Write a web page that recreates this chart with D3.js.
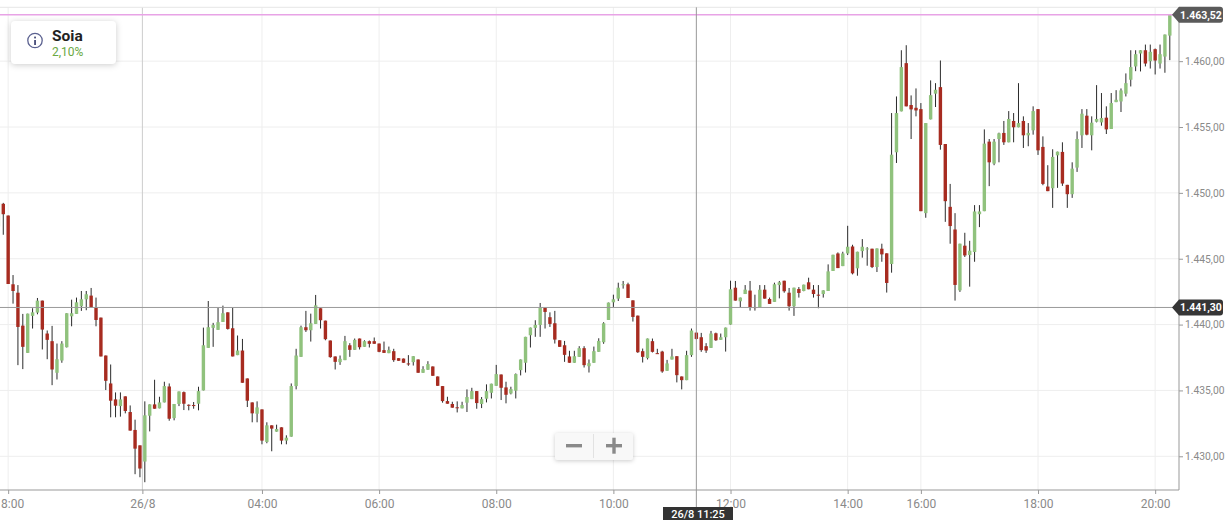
<!DOCTYPE html>
<html>
<head>
<meta charset="utf-8">
<script src="https://cdn.jsdelivr.net/npm/d3@7"></script>
<style>
  html, body { margin: 0; padding: 0; background: #fff; overflow: hidden; }
  svg { display: block; font-family: Roboto, sans-serif; }
</style>
</head>
<body>
<svg id="chart" width="1229" height="520"></svg>
<script>
// 5 minute candles
var opens = [
  1447.45,1449.17,1448.28,1443.06,1442.42,1439.92,1437.85,1440.66,1440.91,1441.82,
  1439.32,1438.74,1436.34,1437.27,1438.28,1440.63,1440.81,1441.39,1441.92,1442.20,
  1441.29,1440.53,1437.65,1435.53,1434.32,1433.81,1434.55,1433.36,1432.00,1430.83,
  1429.60,1433.08,1433.94,1433.64,1434.09,1435.30,1432.90,1433.97,1434.87,1433.91,
  1433.89,1433.99,1435.00,1438.23,1439.75,1439.60,1440.20,1440.93,1439.72,1437.68,
  1438.03,1435.91,1434.09,1433.23,1433.56,1431.09,1432.35,1431.87,1432.20,1431.19,
  1431.49,1435.33,1437.55,1439.80,1439.57,1440.05,1441.24,1440.30,1438.79,1437.58,
  1437.15,1437.30,1438.43,1438.08,1438.94,1438.31,1438.74,1438.74,1438.56,1438.06,
  1437.83,1437.98,1437.45,1437.42,1437.05,1437.15,1437.35,1436.34,1436.57,1436.82,
  1436.06,1435.33,1434.19,1433.97,1433.72,1433.64,1434.07,1434.34,1434.95,1433.97,
  1434.37,1434.82,1435.35,1436.21,1435.23,1434.77,1434.98,1436.54,1437.10,1439.19,
  1439.75,1439.97,1441.26,1440.56,1440.10,1438.81,1438.43,1437.58,1437.10,1437.55,
  1438.21,1436.84,1437.10,1437.93,1438.66,1440.35,1441.69,1441.97,1443.03,1443.06,
  1441.84,1440.68,1437.98,1437.45,1438.74,1437.83,1437.95,1436.49,1437.35,1437.60,
  1436.06,1435.78,1437.68,1439.39,1439.04,1438.36,1438.23,1439.34,1438.84,1439.04,
  1440.00,1442.80,1441.77,1442.32,1442.58,1441.33,1441.31,1442.65,1441.94,1441.72,
  1443.00,1443.33,1442.42,1441.39,1442.70,1442.55,1443.21,1442.65,1442.27,1442.32,
  1442.55,1444.07,1445.40,1444.44,1445.40,1445.93,1444.27,1445.58,1445.76,1445.76,
  1444.37,1445.76,1445.41,1444.60,1453.08,1456.19,1459.85,1456.67,1456.46,1456.36,
  1448.46,1455.58,1457.53,1458.03,1453.71,1448.94,1447.22,1442.60,1445.99,1445.28,
  1445.51,1448.38,1448.61,1453.89,1452.22,1454.09,1454.55,1453.84,1455.46,1454.98,
  1455.46,1454.37,1454.75,1456.36,1453.49,1450.48,1450.35,1452.85,1453.11,1450.61,
  1449.90,1451.92,1454.37,1455.86,1454.37,1455.40,1455.35,1455.71,1454.85,1456.89,
  1456.94,1457.53,1458.59,1459.60,1460.58,1460.83,1460.00,1460.91,1459.82,1460.35,
  1461.94
];
var highs = [
  1449.24,1449.24,1448.28,1443.76,1443.00,1440.81,1440.83,1441.24,1442.02,1441.82,
  1439.55,1439.90,1438.56,1438.74,1440.86,1441.89,1442.05,1442.55,1442.55,1442.78,
  1442.05,1440.53,1437.65,1436.97,1434.85,1434.85,1434.55,1433.86,1432.78,1430.83,
  1434.17,1433.94,1435.81,1434.52,1435.66,1435.53,1433.97,1434.92,1434.92,1433.94,
  1434.12,1435.28,1439.77,1441.79,1440.13,1441.26,1441.44,1440.93,1441.26,1439.17,
  1438.91,1435.91,1434.09,1434.17,1433.56,1432.58,1432.35,1432.40,1432.20,1431.59,
  1435.53,1438.16,1439.92,1441.04,1440.83,1442.25,1441.24,1440.30,1438.79,1437.58,
  1437.65,1439.14,1438.59,1438.94,1438.94,1438.81,1438.79,1439.02,1438.56,1438.71,
  1438.33,1438.16,1437.45,1437.42,1437.68,1437.60,1437.35,1436.84,1437.22,1436.82,
  1436.06,1435.33,1434.52,1434.14,1434.17,1434.14,1435.08,1435.20,1434.95,1434.50,
  1435.46,1435.51,1436.94,1436.21,1435.66,1435.28,1436.29,1437.35,1439.07,1439.77,
  1440.33,1441.64,1441.26,1440.93,1441.04,1438.81,1438.76,1438.01,1438.01,1438.36,
  1438.36,1437.35,1438.33,1438.96,1440.18,1441.67,1442.27,1443.18,1443.31,1443.18,
  1441.84,1440.68,1438.18,1438.94,1438.94,1438.16,1438.01,1437.32,1438.16,1437.60,
  1436.06,1438.01,1439.70,1439.39,1439.37,1438.59,1439.52,1439.39,1439.32,1439.77,
  1443.33,1443.31,1442.05,1443.00,1443.31,1442.27,1443.00,1443.00,1442.05,1443.18,
  1443.31,1443.33,1442.78,1442.80,1442.85,1443.03,1443.56,1443.00,1443.00,1442.60,
  1444.57,1445.30,1445.48,1445.53,1447.50,1446.06,1445.53,1446.49,1445.88,1445.76,
  1445.78,1446.14,1445.41,1456.06,1457.32,1460.83,1461.21,1457.40,1457.93,1456.82,
  1455.30,1458.54,1458.33,1460.05,1453.71,1450.68,1448.46,1446.14,1446.97,1446.36,
  1449.07,1449.07,1454.82,1454.09,1454.09,1454.57,1455.46,1456.21,1456.06,1458.33,
  1455.81,1455.30,1456.57,1456.36,1454.29,1452.10,1453.31,1453.13,1453.84,1450.61,
  1452.32,1454.67,1456.36,1456.36,1455.81,1458.18,1457.58,1456.57,1457.58,1457.80,
  1457.93,1459.07,1460.83,1460.83,1460.83,1461.26,1461.26,1460.96,1461.26,1462.02,
  1463.52
];
var lows = [
  1447.45,1446.82,1443.08,1441.59,1436.92,1436.62,1437.85,1439.70,1440.78,1438.11,
  1437.37,1435.40,1435.83,1437.10,1438.26,1439.87,1440.81,1441.04,1441.09,1441.31,
  1439.87,1437.58,1435.03,1432.96,1432.96,1433.01,1433.26,1431.95,1428.64,1428.41,
  1428.03,1431.89,1433.61,1433.64,1434.09,1432.70,1432.73,1433.81,1433.51,1433.49,
  1433.61,1433.49,1435.00,1438.23,1438.31,1439.60,1440.20,1439.62,1437.58,1437.68,
  1435.58,1433.74,1432.58,1432.58,1430.91,1430.99,1430.38,1431.87,1430.91,1430.91,
  1431.49,1435.08,1437.55,1439.44,1438.71,1440.05,1439.70,1438.81,1437.48,1436.59,
  1436.94,1437.30,1437.55,1438.08,1438.11,1438.31,1438.26,1438.54,1437.90,1437.85,
  1437.83,1437.17,1437.25,1437.10,1436.87,1436.89,1436.34,1436.34,1436.57,1436.11,
  1435.35,1434.07,1433.99,1433.69,1433.33,1433.64,1433.36,1434.34,1433.61,1433.66,
  1434.09,1434.39,1435.35,1434.27,1434.02,1434.70,1434.39,1436.14,1436.36,1438.26,
  1439.07,1439.07,1439.70,1439.82,1438.56,1438.31,1437.17,1437.10,1437.10,1437.55,
  1436.74,1436.36,1437.10,1437.93,1438.54,1440.35,1441.34,1441.79,1442.73,1442.02,
  1440.23,1437.85,1437.12,1437.35,1437.88,1437.78,1436.34,1436.49,1437.35,1435.61,
  1435.08,1435.78,1437.55,1438.86,1437.93,1437.85,1438.23,1438.76,1438.84,1437.95,
  1440.00,1441.82,1441.31,1442.32,1441.06,1441.06,1441.31,1441.97,1441.57,1441.72,
  1441.99,1442.42,1441.06,1440.66,1442.05,1442.53,1442.68,1442.05,1441.24,1442.05,
  1442.55,1444.07,1444.29,1444.44,1445.28,1443.81,1443.71,1445.08,1444.47,1444.29,
  1443.99,1444.77,1442.43,1443.94,1452.27,1456.19,1456.57,1454.09,1455.81,1448.61,
  1448.11,1455.58,1456.52,1453.28,1447.80,1446.14,1441.82,1442.48,1445.13,1442.88,
  1444.77,1447.40,1448.61,1450.51,1452.10,1452.32,1453.64,1453.84,1453.84,1454.98,
  1453.41,1453.54,1454.42,1452.88,1450.58,1450.13,1448.86,1450.38,1450.53,1448.86,
  1449.62,1451.59,1453.41,1454.37,1453.23,1455.35,1455.10,1454.47,1454.85,1456.89,
  1456.14,1457.32,1458.08,1459.24,1459.22,1459.60,1459.44,1458.99,1459.44,1459.12,
  1460.08
];
var closes = [
  1449.24,1448.38,1443.08,1442.55,1439.82,1438.31,1440.83,1440.93,1441.82,1439.62,
  1438.84,1436.59,1437.37,1438.56,1440.86,1440.86,1441.69,1441.92,1442.30,1441.31,
  1440.35,1437.58,1435.73,1434.22,1433.84,1434.32,1433.44,1431.95,1430.58,1429.07,
  1433.11,1433.94,1433.61,1434.09,1435.33,1432.85,1433.97,1434.92,1433.99,1433.89,
  1433.86,1434.95,1438.43,1439.80,1439.97,1440.18,1440.86,1439.67,1437.58,1438.03,
  1435.58,1434.22,1433.26,1433.71,1431.19,1432.35,1432.10,1432.07,1431.19,1431.41,
  1435.33,1437.65,1439.80,1439.57,1440.10,1441.46,1440.33,1438.89,1437.53,1437.17,
  1437.40,1438.74,1438.08,1438.84,1438.28,1438.74,1438.54,1438.54,1437.93,1437.85,
  1438.08,1437.30,1437.25,1437.10,1437.00,1437.60,1436.34,1436.62,1437.00,1436.11,
  1435.35,1434.19,1433.99,1433.69,1433.69,1433.89,1434.50,1434.95,1434.04,1434.34,
  1434.95,1435.51,1436.24,1435.20,1434.67,1435.10,1436.24,1437.35,1439.07,1439.77,
  1439.97,1441.26,1440.96,1440.05,1438.86,1438.31,1437.70,1437.10,1437.60,1438.21,
  1436.92,1437.07,1437.98,1438.76,1440.10,1441.67,1441.92,1442.80,1443.06,1442.02,
  1440.58,1437.90,1437.55,1438.94,1437.93,1437.80,1436.44,1437.05,1437.58,1436.16,
  1435.78,1437.68,1439.55,1438.91,1438.06,1438.03,1439.32,1438.81,1439.04,1439.77,
  1442.68,1441.82,1442.05,1442.65,1441.31,1441.31,1442.65,1441.97,1441.57,1443.06,
  1443.21,1442.53,1441.39,1442.80,1442.40,1443.03,1442.68,1442.32,1442.25,1442.60,
  1444.04,1445.30,1444.29,1445.40,1445.91,1443.89,1445.53,1445.91,1445.78,1444.37,
  1445.78,1445.33,1443.16,1452.90,1456.06,1459.55,1456.57,1456.34,1456.26,1448.61,
  1455.30,1457.42,1457.83,1453.64,1449.37,1447.48,1443.01,1446.14,1445.25,1445.61,
  1448.59,1448.59,1453.74,1452.32,1453.89,1454.52,1453.84,1455.61,1454.98,1455.30,
  1454.37,1454.55,1456.21,1453.23,1450.68,1450.13,1452.73,1453.13,1450.71,1449.90,
  1451.84,1454.09,1456.01,1454.42,1455.33,1455.61,1455.68,1454.82,1456.82,1457.07,
  1457.78,1458.33,1459.55,1460.53,1460.83,1459.82,1460.71,1460.05,1460.53,1462.02,
  1463.52
];

var tickIndex = [2, 29.5, 54, 78, 102, 126, 150, 174, 189, 213, 237];
var tickNames = ['8:00', '26/8', '04:00', '06:00', '08:00', '10:00', '12:00', '14:00', '16:00', '18:00', '20:00'];
var priceTicks = [1430, 1435, 1440, 1445, 1450, 1455, 1460];

var lastPrice = 1463.52;
var crossPrice = 1441.30;
var crossIndex = 143;
var crossLabel = '26/8 11:25';
var title = 'Soia';
var change = '2,10%';

var plotRight = 1179, plotTop = 7.3, plotBottom = 490;

var svg = d3.select('#chart');
var x = d3.scaleLinear().domain([0, 240]).range([-1.6, 1169.8]);
var y = d3.scaleLinear().domain([1427.44, 1464.09]).range([plotBottom, plotTop]);
var price = d3.formatLocale({ decimal: ',', thousands: '.', grouping: [3], currency: ['', ''] }).format(',.2f');

// grid
svg.append('g').selectAll('line').data(priceTicks).join('line')
  .attr('x1', 0).attr('x2', plotRight)
  .attr('y1', function(d) { return y(d); }).attr('y2', function(d) { return y(d); })
  .attr('stroke', '#eeeeee');
svg.append('g').selectAll('line').data(tickIndex).join('line')
  .attr('x1', function(d) { return x(d); }).attr('x2', function(d) { return x(d); })
  .attr('y1', plotTop).attr('y2', plotBottom)
  .attr('stroke', function(d, i) { return i == 1 ? '#cccccc' : '#eeeeee'; });
svg.append('line').attr('x1', 0).attr('x2', plotRight).attr('y1', plotTop).attr('y2', plotTop).attr('stroke', '#e6e6e6');

// axes
var xAxis = d3.axisBottom(x).tickValues(tickIndex).tickSize(4).tickPadding(5.5)
  .tickFormat(function(d, i) { return tickNames[i]; });
var yAxis = d3.axisRight(y).tickValues(priceTicks).tickSize(4).tickPadding(2)
  .tickFormat(price);
var gx = svg.append('g').attr('transform', 'translate(0,' + plotBottom + ')').call(xAxis);
var gy = svg.append('g').attr('transform', 'translate(' + plotRight + ',0)').call(yAxis);
gx.select('.domain').remove();
gy.select('.domain').remove();
svg.append('line').attr('x1', 0).attr('x2', plotRight).attr('y1', plotBottom).attr('y2', plotBottom).attr('stroke', '#999999');
svg.append('line').attr('x1', plotRight).attr('x2', plotRight).attr('y1', plotTop).attr('y2', plotBottom).attr('stroke', '#999999');
gx.selectAll('.tick line').attr('stroke', '#999999');
gy.selectAll('.tick line').attr('stroke', '#999999');
gx.selectAll('text').attr('fill', '#8a8a8a').attr('font-size', 12).attr('font-family', 'Roboto');
gy.selectAll('text').attr('fill', '#8a8a8a').attr('font-size', 10.3).attr('font-family', 'Roboto');
// the first label sits against the left edge of the picture
gx.selectAll('text').filter(function(d, i) { return i == 0; }).attr('dx', 4);

// candles
var candles = svg.append('g').selectAll('g').data(d3.range(opens.length)).join('g');
candles.append('line')
  .attr('x1', function(i) { return x(i); }).attr('x2', function(i) { return x(i); })
  .attr('y1', function(i) { return y(highs[i]); }).attr('y2', function(i) { return y(lows[i]); })
  .attr('stroke', '#2b2b2b').attr('stroke-width', 1);
candles.append('rect')
  .attr('x', function(i) { return x(i) - 1.7; })
  .attr('width', 3.4)
  .attr('y', function(i) { return y(Math.max(opens[i], closes[i])); })
  .attr('height', function(i) { return Math.max(1, Math.abs(y(opens[i]) - y(closes[i]))); })
  .attr('fill', function(i) { return closes[i] >= opens[i] ? '#90c27d' : '#a72b20'; });

// last price and crosshair
svg.append('line').attr('x1', 0).attr('x2', plotRight).attr('y1', y(lastPrice)).attr('y2', y(lastPrice))
  .attr('stroke', '#e8a3e6').attr('stroke-width', 1.5);
svg.append('line').attr('x1', 0).attr('x2', plotRight).attr('y1', y(crossPrice)).attr('y2', y(crossPrice))
  .attr('stroke', '#999999');
svg.append('line').attr('x1', x(crossIndex)).attr('x2', x(crossIndex)).attr('y1', plotTop).attr('y2', 507)
  .attr('stroke', '#999999');

function badge(value, fill) {
  var c = y(value);
  svg.append('path')
    .attr('d', 'M1172,' + c + 'L1179,' + (c - 8) + 'H1220a3,3 0 0 1 3,3V' + (c + 5) + 'a3,3 0 0 1 -3,3H1179Z')
    .attr('fill', fill);
  svg.append('text').attr('x', 1201).attr('y', c + 3.7).attr('text-anchor', 'middle')
    .attr('fill', '#fff').attr('font-size', 10.5).attr('font-weight', 700).text(price(value));
}
badge(lastPrice, '#5a5a5a');
badge(crossPrice, '#363636');

svg.append('rect').attr('x', 663).attr('y', 507).attr('width', 70).attr('height', 13).attr('fill', '#333333');
svg.append('text').attr('x', 698).attr('y', 517.5).attr('text-anchor', 'middle')
  .attr('fill', '#fff').attr('font-size', 11).attr('font-weight', 500).text(crossLabel);

// title box
svg.append('rect').attr('x', 11).attr('y', 21).attr('width', 105).attr('height', 43).attr('rx', 4)
  .attr('fill', '#fff').style('filter', 'drop-shadow(0 1px 3px rgba(0,0,0,.2))');
svg.append('circle').attr('cx', 35).attr('cy', 40.5).attr('r', 7.2)
  .attr('fill', 'none').attr('stroke', '#5b6190').attr('stroke-width', 1.3);
svg.append('rect').attr('x', 34.2).attr('y', 40).attr('width', 1.7).attr('height', 5).attr('fill', '#3b4170');
svg.append('rect').attr('x', 34.2).attr('y', 36.6).attr('width', 1.7).attr('height', 1.8).attr('fill', '#3b4170');
svg.append('text').attr('x', 52).attr('y', 40.5).attr('font-size', 15.5).attr('font-weight', 700)
  .attr('fill', '#222222').text(title);
svg.append('text').attr('x', 52).attr('y', 55.5).attr('font-size', 12)
  .attr('fill', '#6aa843').text(change);

// zoom buttons
svg.append('rect').attr('x', 555).attr('y', 433).attr('width', 78).attr('height', 27).attr('rx', 2)
  .attr('fill', '#f8f8f8').style('filter', 'drop-shadow(0 1px 2px rgba(0,0,0,.2))');
svg.append('line').attr('x1', 593.5).attr('x2', 593.5).attr('y1', 434).attr('y2', 458).attr('stroke', '#e2e2e2');
svg.append('rect').attr('x', 566).attr('y', 444).attr('width', 16).attr('height', 3.4).attr('fill', '#8a8a8a');
svg.append('rect').attr('x', 606).attr('y', 444).attr('width', 16).attr('height', 3.4).attr('fill', '#8a8a8a');
svg.append('rect').attr('x', 612.3).attr('y', 437.7).attr('width', 3.4).attr('height', 16).attr('fill', '#8a8a8a');
</script>
</body>
</html>
